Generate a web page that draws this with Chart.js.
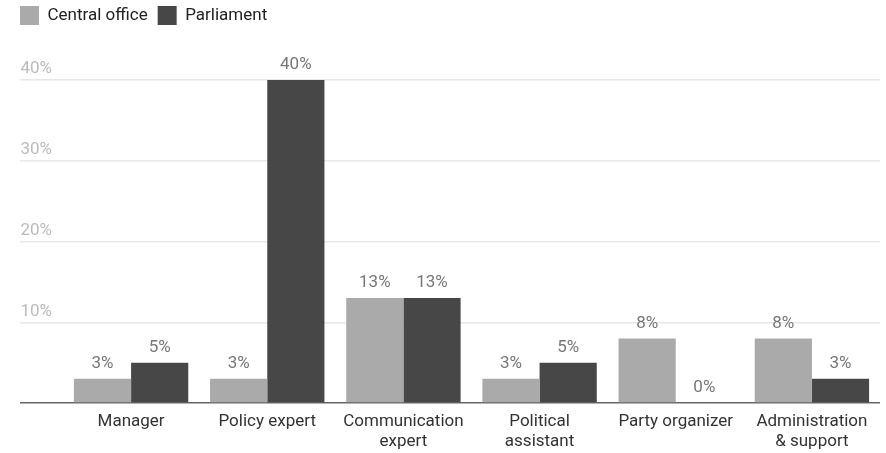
<!DOCTYPE html>
<html>
<head>
<meta charset="utf-8">
<script src="https://cdn.jsdelivr.net/npm/chart.js@4/dist/chart.umd.min.js"></script>
<style>
    html, body { margin: 0; padding: 0; background: #fff; }
    #wrap { width: 886px; height: 453px; }
</style>
</head>
<body>
<div id="wrap"><canvas id="roleChart"></canvas></div>
<script>
// chart data
const categories = [
    ['Manager'],
    ['Policy expert'],
    ['Communication', 'expert'],
    ['Political', 'assistant'],
    ['Party organizer'],
    ['Administration', '& support']
];
const centralOffice = [3, 3, 13, 3, 8, 8];
const parliament = [5, 40, 13, 5, 0, 3];
const yTickValues = [0, 10, 20, 30, 40];

const FONT = 'Roboto';

// value labels above every bar
const barLabels = {
    id: 'barLabels',
    afterDatasetsDraw(chart) {
        const ctx = chart.ctx;
        ctx.save();
        ctx.font = '17px ' + FONT;
        ctx.fillStyle = '#777777';
        ctx.textAlign = 'center';
        ctx.textBaseline = 'middle';
        chart.data.datasets.forEach((ds, i) => {
            chart.getDatasetMeta(i).data.forEach((bar, j) => {
                ctx.fillText(ds.data[j] + '%', bar.x, bar.y - 15);
            });
        });
        ctx.restore();
    }
};

// fixed legend height so the plot starts where the reference does
const legendHeight = {
    id: 'legendHeight',
    beforeLayout(chart) {
        const lg = chart.legend;
        if (lg && !lg._patched) {
            const fit = lg.fit;
            lg.fit = function () {
                fit.call(this);
                this.height = 84;
            };
            lg._patched = true;
        }
    }
};

const ctx = document.getElementById('roleChart').getContext('2d');
new Chart(ctx, {
    type: 'bar',
    data: {
        labels: categories,
        datasets: [
            {
                label: 'Central office',
                data: centralOffice,
                backgroundColor: '#aaaaaa'
            },
            {
                label: 'Parliament',
                data: parliament,
                backgroundColor: '#474747'
            }
        ]
    },
    options: {
        responsive: true,
        maintainAspectRatio: false,
        animation: false,
        layout: { padding: { left: 10, right: 6, top: -4, bottom: 0 } },
        datasets: {
            bar: { categoryPercentage: 0.84, barPercentage: 1 }
        },
        scales: {
            x: {
                grid: { display: false, drawTicks: false },
                border: { display: false },
                ticks: {
                    color: '#333333',
                    font: { family: FONT, size: 17, lineHeight: 1.15 },
                    padding: 9,
                    maxRotation: 0,
                    autoSkip: false
                },
                afterFit(scale) { scale.height = 50; }
            },
            y: {
                min: 0,
                max: 40,
                afterBuildTicks(scale) {
                    scale.ticks = yTickValues.map(v => ({ value: v }));
                },
                border: { display: false },
                grid: {
                    color: c => c.tick && c.tick.value === 0 ? '#666666' : '#e8e8e8',
                    lineWidth: 1.5,
                    tickLength: 43
                },
                ticks: {
                    color: '#bbbbbb',
                    font: { family: FONT, size: 17 },
                    padding: -32,
                    labelOffset: -11,
                    callback: v => v === 0 ? '' : v + '%'
                },
                afterFit(scale) { scale.width = 53; }
            }
        },
        plugins: {
            legend: {
                position: 'top',
                align: 'start',
                labels: {
                    boxWidth: 19,
                    boxHeight: 19,
                    padding: 10,
                    color: '#222222',
                    font: { family: FONT, size: 17 }
                }
            },
            tooltip: { enabled: false }
        }
    },
    plugins: [barLabels, legendHeight]
});
</script>
</body>
</html>
